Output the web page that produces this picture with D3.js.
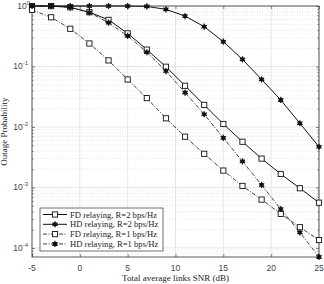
<!DOCTYPE html>
<html>
<head>
<meta charset="utf-8">
<script src="https://cdn.jsdelivr.net/npm/d3@7"></script>
<style>
  body { margin: 0; background: #fff; }
  svg { display: block; }
</style>
</head>
<body>
<svg id="chart" width="324" height="284"></svg>
<script>
// SNR values (dB)
const snr = [-5, -3, -1, 1, 3, 5, 7, 9, 11, 13, 15, 17, 19, 21, 23, 25];

// outage probabilities
const fdR2 = [1.0, 0.995, 0.95, 0.79, 0.59, 0.353, 0.19, 0.099, 0.048, 0.0232, 0.0112, 0.0057, 0.003, 0.00167, 0.00097, 0.00056];
const hdR2 = [1.0, 1.0, 1.0, 1.0, 1.0, 0.998, 0.985, 0.88, 0.68, 0.455, 0.257, 0.131, 0.061, 0.028, 0.0115, 0.0047];
const fdR1 = [0.86, 0.65, 0.42, 0.24, 0.126, 0.061, 0.03, 0.0139, 0.0069, 0.0036, 0.0019, 0.00106, 0.00063, 0.000365, 0.00022, 0.000135];
const hdR1 = [1.0, 1.0, 0.95, 0.78, 0.53, 0.32, 0.172, 0.084, 0.037, 0.0162, 0.0066, 0.0027, 0.0011, 0.00044, 0.00018, 0.000071];

const seriesNames = ["FD relaying, R=2 bps/Hz", "HD relaying, R=2 bps/Hz", "FD relaying, R=1 bps/Hz", "HD relaying, R=1 bps/Hz"];
const xTicks = [-5, 0, 5, 10, 15, 20, 25];
const yTicks = [1e-4, 1e-3, 1e-2, 1e-1, 1];
const yTickExp = ["-4", "-3", "-2", "-1", "0"];

const series = [
  { name: seriesNames[0], values: fdR2, marker: "square", dash: null },
  { name: seriesNames[1], values: hdR2, marker: "star", dash: null },
  { name: seriesNames[2], values: fdR1, marker: "square", dash: "4,1.5,1,1.5" },
  { name: seriesNames[3], values: hdR1, marker: "star", dash: "4,1.5,1,1.5" }
];

const margin = { top: 6, right: 5, bottom: 27, left: 32 };
const width = 324 - margin.left - margin.right,
      height = 284 - margin.top - margin.bottom;

const svg = d3.select("#chart");
const g = svg.append("g").attr("transform", "translate(" + margin.left + "," + margin.top + ")");

const x = d3.scaleLinear().domain([-5, 25]).range([0, width]);
const y = d3.scaleLog().domain([Math.pow(10, -4.15), 1]).range([height, 0]);

// minor grid (dotted) on y
const minor = [];
for (let e = -5; e < 0; e++) {
  for (let m = 2; m <= 9; m++) {
    const v = m * Math.pow(10, e);
    if (v >= y.domain()[0] && v <= 1) minor.push(v);
  }
}
g.selectAll(".ygridMinor").data(minor).enter().append("line")
  .attr("x1", 0).attr("x2", width)
  .attr("y1", d => y(d)).attr("y2", d => y(d))
  .attr("stroke", "#d4d4d4").attr("stroke-width", 0.6)
  .attr("stroke-dasharray", "1,1.5");

// major grid
g.selectAll(".ygrid").data(yTicks).enter().append("line")
  .attr("x1", 0).attr("x2", width)
  .attr("y1", d => y(d)).attr("y2", d => y(d))
  .attr("stroke", "#e0e0e0").attr("stroke-width", 0.8);
g.selectAll(".xgrid").data(xTicks).enter().append("line")
  .attr("y1", 0).attr("y2", height)
  .attr("x1", d => x(d)).attr("x2", d => x(d))
  .attr("stroke", "#e0e0e0").attr("stroke-width", 0.8);

// axes with inward ticks
const axisB = d3.axisBottom(x).tickValues(xTicks).tickSizeInner(-3).tickSizeOuter(0).tickFormat("");
const axisT = d3.axisTop(x).tickValues(xTicks).tickSizeInner(-3).tickSizeOuter(0).tickFormat("");
const axisL = d3.axisLeft(y).tickValues(yTicks).tickSizeInner(-3).tickSizeOuter(0).tickFormat("");
const axisR = d3.axisRight(y).tickValues(yTicks).tickSizeInner(-3).tickSizeOuter(0).tickFormat("");
const axisLm = d3.axisLeft(y).tickValues(minor).tickSizeInner(-1.5).tickSizeOuter(0).tickFormat("");
const axisRm = d3.axisRight(y).tickValues(minor).tickSizeInner(-1.5).tickSizeOuter(0).tickFormat("");

g.append("g").attr("transform", "translate(0," + height + ")").call(axisB);
g.append("g").call(axisT);
g.append("g").call(axisL);
g.append("g").call(axisLm);
g.append("g").attr("transform", "translate(" + width + ",0)").call(axisR);
g.append("g").attr("transform", "translate(" + width + ",0)").call(axisRm);
g.selectAll(".domain").remove();
g.selectAll(".tick line").attr("stroke", "#333").attr("stroke-width", 0.6);

g.append("rect").attr("x", 0).attr("y", 0).attr("width", width).attr("height", height)
  .attr("fill", "none").attr("stroke", "#333").attr("stroke-width", 0.8);

// tick labels
g.selectAll(".xlab").data(xTicks).enter().append("text")
  .attr("x", d => x(d)).attr("y", height + 14)
  .attr("text-anchor", "middle")
  .attr("font-family", "Liberation Sans, Arial, sans-serif")
  .attr("font-size", 8.5).attr("fill", "#444")
  .text(d => d);

const yl = g.selectAll(".ylab").data(yTicks).enter().append("text")
  .attr("x", -4).attr("y", d => y(d) + 3)
  .attr("text-anchor", "end")
  .attr("font-family", "Liberation Sans, Arial, sans-serif")
  .attr("font-size", 8.5).attr("fill", "#444");
yl.append("tspan").text("10");
yl.append("tspan").attr("dy", -4).attr("font-size", 6).text((d, i) => yTickExp[i]);
yl.filter((d, i) => yTickExp[i] === "0").attr("x", -2);

// axis titles
svg.append("text")
  .attr("x", margin.left + width / 2).attr("y", 281)
  .attr("text-anchor", "middle")
  .attr("font-family", "Liberation Serif, Times New Roman, serif")
  .attr("font-size", 9).attr("fill", "#222")
  .text("Total average links SNR (dB)");
svg.append("text")
  .attr("transform", "translate(7," + (margin.top + height / 2) + ") rotate(-90)")
  .attr("text-anchor", "middle")
  .attr("font-family", "Liberation Serif, Times New Roman, serif")
  .attr("font-size", 9).attr("fill", "#222")
  .text("Outage Probability");

// lines
const line = d3.line().x((d, i) => x(snr[i])).y(d => y(d));
const star = d3.symbol().type(d3.symbolAsterisk).size(26);

function drawMarker(sel, type) {
  if (type === "square") {
    sel.append("rect").attr("x", -2.6).attr("y", -2.6).attr("width", 5.2).attr("height", 5.2)
      .attr("fill", "#fff").attr("stroke", "#111").attr("stroke-width", 0.9);
  } else {
    sel.append("path").attr("d", star()).attr("fill", "none").attr("stroke", "#111").attr("stroke-width", 1.2);
    sel.append("circle").attr("r", 2.1).attr("fill", "#111");
  }
}

series.forEach(s => {
  g.append("path").datum(s.values)
    .attr("d", line)
    .attr("fill", "none")
    .attr("stroke", "#111")
    .attr("stroke-width", s.dash ? 0.8 : 1.0)
    .attr("stroke-dasharray", s.dash);
  const m = g.selectAll(null).data(s.values).enter().append("g")
    .attr("transform", (d, i) => "translate(" + x(snr[i]) + "," + y(d) + ")");
  drawMarker(m, s.marker);
});

// legend
const lg = svg.append("g").attr("transform", "translate(40,208)");
lg.append("rect").attr("width", 123).attr("height", 43)
  .attr("fill", "#fff").attr("stroke", "#333").attr("stroke-width", 0.7);
series.forEach((s, i) => {
  const row = lg.append("g").attr("transform", "translate(0," + (6.5 + i * 9.8) + ")");
  row.append("line").attr("x1", 3).attr("x2", 27).attr("y1", 0).attr("y2", 0)
    .attr("stroke", "#111").attr("stroke-width", s.dash ? 0.8 : 1.0)
    .attr("stroke-dasharray", s.dash);
  drawMarker(row.append("g").attr("transform", "translate(15,0)"), s.marker);
  row.append("text").attr("x", 30).attr("y", 3)
    .attr("font-family", "Liberation Serif, Times New Roman, serif")
    .attr("font-size", 8.6).attr("fill", "#222")
    .text(s.name);
});
</script>
</body>
</html>
